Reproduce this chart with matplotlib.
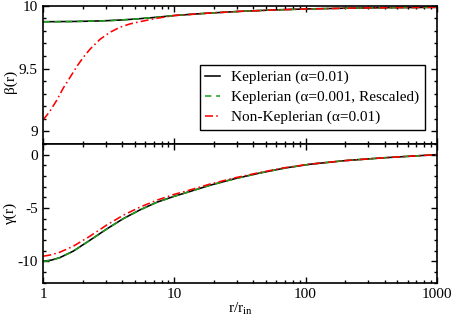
import matplotlib
matplotlib.use("Agg")
import matplotlib.pyplot as plt
from matplotlib.ticker import LogLocator, MultipleLocator, NullFormatter, FixedLocator

plt.rcParams['font.family'] = ['Liberation Serif', 'DejaVu Serif']
plt.rcParams['mathtext.fontset'] = 'custom'
plt.rcParams['mathtext.rm'] = 'Liberation Serif'
plt.rcParams['mathtext.it'] = 'Liberation Serif:italic'

# ---- data ----
# beta(r), upper panel
r_beta = [1, 1.12, 1.27, 1.42, 1.60, 1.80, 2.02, 2.27, 2.71, 3.23, 3.85, 4.58, 5.47, 7.33,
          10, 17.6, 31.6, 56.6, 100, 200, 400, 1000]
beta_kep = [9.873, 9.873, 9.873, 9.874, 9.874, 9.875, 9.876, 9.877, 9.879, 9.882, 9.886,
            9.891, 9.897, 9.908, 9.922, 9.940, 9.955, 9.966, 9.974, 9.980, 9.984, 9.987]
beta_kep3 = [9.872, 9.872, 9.873, 9.873, 9.874, 9.875, 9.876, 9.877, 9.879, 9.882, 9.886,
             9.891, 9.897, 9.908, 9.922, 9.940, 9.955, 9.966, 9.974, 9.980, 9.984, 9.987]
beta_nk = [9.093, 9.159, 9.25, 9.345, 9.43, 9.516, 9.59, 9.654, 9.733, 9.789, 9.829, 9.855,
           9.873, 9.900, 9.922, 9.940, 9.955, 9.966, 9.974, 9.980, 9.984, 9.987]

# gamma(r), lower panel
r_gamma = [1, 1.15, 1.34, 1.69, 2.27, 3.05, 4.08, 5.47, 7.33, 10, 12.05, 18.7, 29, 45, 70,
           108, 200, 400, 1000]
gamma_kep = [-10.0, -9.9, -9.66, -9.06, -8.03, -6.97, -6.0, -5.18, -4.47, -3.9, -3.6, -2.87,
             -2.25, -1.72, -1.25, -0.9, -0.56, -0.29, 0.0]
gamma_kep3 = [-10.03, -9.92, -9.67, -9.07, -8.04, -6.98, -6.01, -5.19, -4.48, -3.9, -3.6,
              -2.87, -2.25, -1.72, -1.25, -0.9, -0.56, -0.29, 0.0]
gamma_nk = [-9.53, -9.4, -9.15, -8.6, -7.65, -6.6, -5.68, -4.92, -4.28, -3.72, -3.45, -2.76,
            -2.17, -1.67, -1.22, -0.89, -0.56, -0.29, 0.0]

labels = ['Keplerian (α=0.01)', 'Keplerian (α=0.001, Rescaled)', 'Non-Keplerian (α=0.01)']
xticks = [1, 10, 100, 1000]
xticklabels = ['1', '10', '100', '1000']

W, H = 452, 318
fig = plt.figure(figsize=(W / 100, H / 100), dpi=100)
L, R = 43.3, 436.7
ax1 = fig.add_axes([L / W, 1 - 144 / H, (R - L) / W, (144 - 5.7) / H])
ax2 = fig.add_axes([L / W, 1 - 282.5 / H, (R - L) / W, (282.5 - 144) / H])

green = '#1f9f1f'
lw = 1.15
FS = 11
for ax, (yb, yg, yr, rr) in zip(
        [ax1, ax2],
        [(beta_kep, beta_kep3, beta_nk, r_beta),
         (gamma_kep, gamma_kep3, gamma_nk, r_gamma)]):
    ax.plot(rr, yb, color='black', lw=lw, label=labels[0])
    ax.plot(rr, yg, color=green, lw=lw, dashes=(4, 3), label=labels[1])
    ax.plot(rr, yr, color='red', lw=lw, dashes=(5, 2, 1, 2), label=labels[2])
    ax.set_xscale('log')
    ax.set_xlim(1, 1000)
    ax.tick_params(which='both', direction='in', top=True, right=True, labelsize=FS, width=1)
    ax.tick_params(which='major', length=4.5, pad=4)
    ax.tick_params(which='minor', length=2.3)
    ax.xaxis.set_major_locator(FixedLocator(xticks))
    ax.xaxis.set_minor_locator(LogLocator(base=10, subs=range(2, 10)))
    ax.xaxis.set_minor_formatter(NullFormatter())
    for s in ax.spines.values():
        s.set_linewidth(1.2)

ax1.set_ylim(8.9, 10)
ax1.yaxis.set_major_locator(FixedLocator([9, 9.5, 10]))
ax1.yaxis.set_minor_locator(MultipleLocator(0.1))
ax1.set_yticklabels(['9', '9.5', '10'])
ax1.set_xticklabels([])
ax1.set_ylabel('β(r)', fontsize=FS)
ax1.yaxis.set_label_coords(-0.068, 0.45)

ax2.set_ylim(-12, 1)
ax2.yaxis.set_major_locator(FixedLocator([-10, -5, 0]))
ax2.yaxis.set_minor_locator(MultipleLocator(1))
ax2.set_yticklabels(['-10', '-5', '0'])
ax2.set_xticklabels(xticklabels)
ax2.set_ylabel('γ(r)', fontsize=FS)
ax2.yaxis.set_label_coords(-0.068, 0.5)
ax2.set_xlabel(r'r/r$_{\rm in}$', fontsize=FS)
ax2.xaxis.set_label_coords(0.5, -0.13)

leg = ax1.legend(loc='upper left', bbox_to_anchor=(0.398, 0.571), fontsize=FS,
                 frameon=True, fancybox=False, edgecolor='black', framealpha=1,
                 handlelength=1.0, handletextpad=0.7, borderpad=0.35, labelspacing=0.4,
                 borderaxespad=0)
leg.get_frame().set_linewidth(1.0)

fig.savefig('out.png', dpi=100)
